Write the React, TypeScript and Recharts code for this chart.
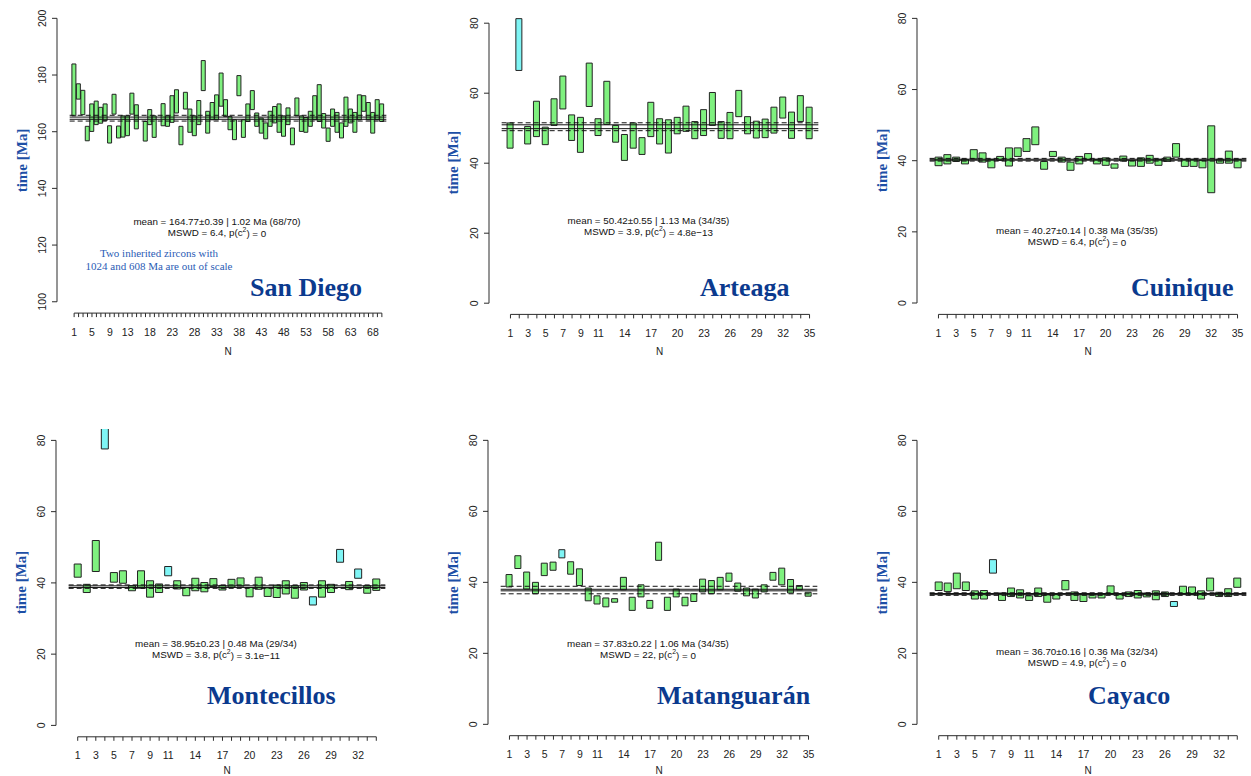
import { BarChart, Bar, XAxis, YAxis, Cell, ReferenceLine } from "recharts";

const GREEN = "#00e400";
const CYAN = "#00ecec";
const INK = "#2b2b2b";
const TITLE_BLUE = "#0b3a8e";
const LABEL_BLUE = "#1d4fa6";
const SANS = "'Liberation Sans', Arial, sans-serif";
const SERIF = "'Liberation Serif', 'Times New Roman', serif";
const PLOT_W = 342;

// x-axis label sets (R drops the overlapping ones)
const labels70 = [1, 5, 9, 13, 18, 23, 28, 33, 38, 43, 48, 53, 58, 63, 68];
const labels35 = [1, 3, 5, 7, 9, 11, 14, 17, 20, 23, 26, 29, 32, 35];
const labels34 = [1, 3, 5, 7, 9, 11, 14, 17, 20, 23, 26, 29, 32];
const ticks0to80 = [0, 20, 40, 60, 80];
const ticksSanDiego = [100, 120, 140, 160, 180, 200];

// San Diego, 70 grains; 16 and 20 are the inherited zircons (off scale)
const sanDiegoHi = [183.9, 176.9, 174.6, 161.9, 169.8, 170.8, 168.6, 169.8, 162.1, 173.2, 162.0, 165.6, 165.6, 173.6, 169.5, null, 163.6, 167.8, 165.6, null, 169.9, 165.6, 172.7, 174.8, 161.9, 173.9, 168.0, 165.6, 171.0, 185.1, 167.2, 170.3, 173.0, 180.7, 171.3, 165.4, 164.2, 179.8, 164.2, 169.8, 174.5, 166.6, 164.8, 163.1, 167.2, 168.9, 169.8, 165.6, 168.4, 161.3, 171.9, 165.6, 165.0, 167.2, 172.7, 176.6, 166.4, 161.3, 168.0, 166.8, 163.1, 172.2, 168.0, 166.8, 173.0, 172.7, 170.3, 166.8, 171.3, 169.8];
const sanDiegoLo = [165.6, 171.5, 166.0, 156.8, 160.1, 162.5, 163.0, 163.9, 156.0, 166.2, 157.8, 158.1, 158.6, 166.2, 161.0, null, 156.7, 162.5, 158.0, null, 162.1, 161.9, 163.3, 166.6, 155.4, 168.0, 159.8, 158.6, 162.5, 174.5, 159.5, 164.2, 164.2, 169.0, 165.4, 160.7, 157.2, 172.7, 158.0, 163.6, 167.8, 161.9, 159.5, 157.5, 161.9, 163.1, 159.8, 158.4, 162.5, 155.4, 165.6, 160.1, 159.8, 161.9, 164.2, 163.6, 161.3, 156.6, 161.9, 159.8, 157.8, 161.9, 163.1, 159.8, 164.2, 167.2, 164.2, 159.5, 164.2, 163.6];
const sanDiegoRejected = [16, 20];

const arteagaHi = [51.5, 81.3, 50.5, 57.7, 50.3, 58.4, 64.9, 53.8, 53.1, 68.6, 52.7, 63.4, 50.8, 48.2, 51.5, 47.3, 57.4, 52.7, 52.4, 53.1, 56.3, 51.9, 55.3, 60.2, 51.9, 54.5, 60.8, 53.3, 52.0, 52.6, 56.0, 58.9, 54.6, 59.3, 56.0];
const arteagaLo = [44.3, 66.5, 45.5, 47.6, 45.3, 50.8, 55.5, 46.5, 43.1, 56.2, 47.9, 51.1, 46.0, 40.8, 44.3, 42.5, 47.6, 45.5, 42.9, 48.4, 49.1, 47.0, 47.9, 50.8, 47.1, 47.0, 53.3, 48.4, 47.2, 47.3, 48.6, 52.9, 47.1, 51.9, 47.0];
const arteagaRejected = [2];

const cuiniqueHi = [41.0, 41.7, 41.0, 40.4, 43.1, 42.2, 40.4, 41.2, 43.6, 43.6, 46.2, 49.5, 39.8, 42.6, 41.0, 39.6, 41.2, 42.0, 40.4, 40.8, 39.1, 41.3, 40.1, 40.8, 41.5, 40.4, 41.0, 44.8, 40.4, 40.4, 40.1, 49.8, 40.4, 42.7, 40.4];
const cuiniqueLo = [38.6, 39.1, 39.8, 39.1, 40.5, 39.6, 38.0, 40.1, 38.5, 41.2, 42.6, 44.5, 37.6, 41.2, 39.6, 37.3, 39.1, 40.3, 39.1, 38.7, 37.9, 39.9, 38.5, 38.4, 39.3, 38.7, 39.8, 41.0, 38.4, 38.4, 38.0, 31.0, 39.3, 39.3, 38.0];
const cuiniqueRejected: number[] = [];

const montecillosHi = [45.3, 39.6, 51.9, 86.0, 42.9, 43.4, 39.2, 43.4, 40.6, 39.7, 44.6, 40.6, 38.7, 41.3, 40.1, 41.2, 39.3, 41.0, 41.4, 38.7, 41.6, 38.6, 39.4, 40.6, 39.2, 40.1, 36.1, 40.6, 39.6, 49.4, 40.4, 43.9, 39.2, 41.1];
const montecillosLo = [41.6, 37.3, 43.2, 77.6, 40.2, 39.9, 37.8, 38.5, 36.0, 37.3, 42.0, 38.3, 36.4, 37.8, 37.5, 39.0, 38.0, 38.8, 39.1, 36.1, 38.2, 36.2, 35.9, 36.9, 35.7, 38.0, 33.8, 36.0, 37.3, 45.8, 38.1, 41.3, 37.1, 37.9];
const montecillosRejected = [4, 11, 27, 30, 32];

const matanguaranHi = [42.2, 47.5, 42.9, 40.0, 45.4, 45.7, 49.2, 45.8, 43.8, 38.4, 36.2, 35.6, 35.4, 41.4, 35.8, 39.3, 34.9, 51.3, 35.8, 38.1, 35.8, 36.8, 40.9, 40.5, 41.4, 42.6, 39.8, 38.4, 38.1, 39.3, 42.8, 44.0, 40.8, 39.1, 37.2];
const matanguaranLo = [38.7, 43.9, 38.1, 36.8, 41.9, 43.4, 46.9, 42.3, 39.1, 34.8, 33.9, 33.1, 34.4, 37.9, 32.1, 35.9, 32.7, 46.2, 32.1, 35.9, 33.4, 34.6, 37.3, 36.8, 37.9, 40.3, 37.5, 36.2, 35.6, 37.3, 40.6, 39.3, 37.0, 37.9, 36.1];
const matanguaranRejected = [7];

const cayacoHi = [40.1, 39.8, 42.6, 40.1, 37.6, 37.7, 46.4, 37.0, 38.4, 37.9, 36.2, 38.4, 36.5, 36.7, 40.5, 37.3, 36.7, 36.7, 36.8, 39.0, 36.8, 37.3, 37.7, 37.0, 37.6, 37.3, 34.6, 38.9, 38.7, 37.6, 41.2, 37.2, 38.2, 41.2];
const cayacoLo = [37.7, 37.4, 38.2, 37.7, 35.3, 35.3, 42.6, 34.9, 36.0, 35.6, 34.9, 36.0, 34.4, 35.3, 37.9, 34.9, 34.6, 35.6, 35.6, 36.7, 35.3, 36.0, 35.6, 35.9, 35.1, 36.0, 33.2, 36.7, 36.5, 35.3, 37.6, 36.0, 36.0, 38.6];
const cayacoRejected = [7, 27];

type Panel = {
  name: string;
  hi: (number | null)[];
  lo: (number | null)[];
  rejected: number[];
  yTicks: number[];
  xLabels: number[];
  mean: number;
  err: number;
  disp: number;
  meanText: string;
  mswd: string;
  pval: string;
  axisX: number;
  plotTop: number;
  plotBottom: number;
  barSize: number;
  textY: number;
  titleX: number;
  titleY: number;
  nY: number;
};

const panels: Panel[] = [
  { name: "San Diego", hi: sanDiegoHi, lo: sanDiegoLo, rejected: sanDiegoRejected, yTicks: ticksSanDiego, xLabels: labels70, mean: 164.77, err: 0.39, disp: 1.02, meanText: "mean = 164.77±0.39 | 1.02 Ma (68/70)", mswd: "MSWD = 6.4, p(c", pval: ") = 0", axisX: 57, plotTop: 7.4, plotBottom: 313.5, barSize: 4, textY: 221, titleX: 250, titleY: 296, nY: 351 },
  { name: "Arteaga", hi: arteagaHi, lo: arteagaLo, rejected: arteagaRejected, yTicks: ticks0to80, xLabels: labels35, mean: 50.42, err: 0.55, disp: 1.13, meanText: "mean = 50.42±0.55 | 1.13 Ma (34/35)", mswd: "MSWD = 3.9, p(c", pval: ") = 4.8e\u221213", axisX: 488.5, plotTop: 11.5, plotBottom: 313.9, barSize: 6, textY: 220, titleX: 700, titleY: 296, nY: 351 },
  { name: "Cuinique", hi: cuiniqueHi, lo: cuiniqueLo, rejected: cuiniqueRejected, yTicks: ticks0to80, xLabels: labels35, mean: 40.27, err: 0.14, disp: 0.38, meanText: "mean = 40.27±0.14 | 0.38 Ma (35/35)", mswd: "MSWD = 6.4, p(c", pval: ") = 0", axisX: 917, plotTop: 6.6, plotBottom: 314, barSize: 7, textY: 230, titleX: 1131, titleY: 296, nY: 351 },
  { name: "Montecillos", hi: montecillosHi, lo: montecillosLo, rejected: montecillosRejected, yTicks: ticks0to80, xLabels: labels34, mean: 38.95, err: 0.23, disp: 0.48, meanText: "mean = 38.95±0.23 | 0.48 Ma (29/34)", mswd: "MSWD = 3.8, p(c", pval: ") = 3.1e\u221211", axisX: 56, plotTop: 428.6, plotBottom: 736.4, barSize: 7, textY: 643, titleX: 207, titleY: 704, nY: 770 },
  { name: "Matanguarán", hi: matanguaranHi, lo: matanguaranLo, rejected: matanguaranRejected, yTicks: ticks0to80, xLabels: labels35, mean: 37.83, err: 0.22, disp: 1.06, meanText: "mean = 37.83±0.22 | 1.06 Ma (34/35)", mswd: "MSWD = 22, p(c", pval: ") = 0", axisX: 488, plotTop: 429.4, plotBottom: 736.1, barSize: 6, textY: 643, titleX: 657, titleY: 704, nY: 770 },
  { name: "Cayaco", hi: cayacoHi, lo: cayacoLo, rejected: cayacoRejected, yTicks: ticks0to80, xLabels: labels34, mean: 36.7, err: 0.16, disp: 0.36, meanText: "mean = 36.70±0.16 | 0.36 Ma (32/34)", mswd: "MSWD = 4.9, p(c", pval: ") = 0", axisX: 917, plotTop: 429.3, plotBottom: 736, barSize: 7, textY: 651, titleX: 1088, titleY: 704, nY: 770 },
];

function PanelChart({ p }: { p: Panel }) {
  const n = p.hi.length;
  const xMin = -0.04 * (n + 1);
  const xMax = 1.04 * (n + 1);
  const first = p.yTicks[0];
  const last = p.yTicks[p.yTicks.length - 1];
  const pad = 0.04 * (last - first);
  const data = p.hi.map((hi, i) => ({
    n: i + 1,
    range: hi == null ? null : [p.lo[i], hi],
    out: p.rejected.includes(i + 1),
  }));
  const allN = data.map((d) => d.n);
  const h = p.plotBottom - p.plotTop + 40;

  return (
    <div style={{ position: "absolute", left: p.axisX - 60, top: p.plotTop }}>
      <BarChart width={60 + PLOT_W + 10} height={h} data={data} margin={{ top: 0, right: 10, bottom: 0, left: 0 }}>
        <XAxis
          type="number"
          dataKey="n"
          domain={[xMin, xMax]}
          ticks={allN}
          interval={0}
          allowDataOverflow
          axisLine={false}
          tickSize={4}
          height={40}
          stroke={INK}
          tick={(props: any) =>
            p.xLabels.includes(props.payload.value) ? (
              <text x={props.x} y={props.y + 16.5} textAnchor="middle" fontSize={10.5} fontFamily={SANS} fill="#222">
                {props.payload.value}
              </text>
            ) : (
              <g />
            )
          }
        />
        <YAxis
          type="number"
          domain={[first - pad, last + pad]}
          ticks={p.yTicks}
          interval={0}
          allowDataOverflow
          axisLine={false}
          tickSize={5}
          width={60}
          stroke={INK}
          tick={(props: any) => (
            <text
              x={props.x - 4}
              y={props.y}
              transform={`rotate(-90 ${props.x - 4} ${props.y})`}
              textAnchor="middle"
              fontSize={10.5}
              fontFamily={SANS}
              fill="#222"
            >
              {props.payload.value}
            </text>
          )}
        />
        {/* R-style axis lines that only run between the outer ticks */}
        <ReferenceLine segment={[{ x: xMin, y: first }, { x: xMin, y: last }]} stroke={INK} ifOverflow="visible" />
        <ReferenceLine segment={[{ x: 1, y: first - pad }, { x: n, y: first - pad }]} stroke={INK} ifOverflow="visible" />
        <ReferenceLine segment={[{ x: 0, y: p.mean + p.disp }, { x: n + 1, y: p.mean + p.disp }]} stroke="#111" strokeDasharray="5 3" ifOverflow="visible" />
        <ReferenceLine segment={[{ x: 0, y: p.mean - p.disp }, { x: n + 1, y: p.mean - p.disp }]} stroke="#111" strokeDasharray="5 3" ifOverflow="visible" />
        <ReferenceLine segment={[{ x: 0, y: p.mean + p.err }, { x: n + 1, y: p.mean + p.err }]} stroke="#111" ifOverflow="visible" />
        <ReferenceLine segment={[{ x: 0, y: p.mean - p.err }, { x: n + 1, y: p.mean - p.err }]} stroke="#111" ifOverflow="visible" />
        <Bar dataKey="range" barSize={p.barSize} isAnimationActive={false} stroke="#222" strokeWidth={1}>
          {data.map((d) => (
            <Cell key={d.n} fill={d.out ? CYAN : GREEN} fillOpacity={0.5} />
          ))}
        </Bar>
      </BarChart>
    </div>
  );
}

function Annotations() {
  return (
    <svg width={1251} height={776} style={{ position: "absolute", left: 0, top: 0, pointerEvents: "none" }}>
      {panels.map((p) => {
        const cx = p.axisX + 160;
        const midY = (p.plotTop + p.plotBottom) / 2;
        return (
          <g key={p.name}>
            <text
              x={p.axisX - 35}
              y={midY}
              transform={`rotate(-90 ${p.axisX - 35} ${midY})`}
              textAnchor="middle"
              dominantBaseline="central"
              fontFamily={SERIF}
              fontWeight="bold"
              fontSize={15}
              fill={LABEL_BLUE}
            >
              time [Ma]
            </text>
            <text x={cx} y={p.textY} textAnchor="middle" dominantBaseline="central" fontFamily={SANS} fontSize={9.8} fill="#111">
              {p.meanText}
            </text>
            <text x={cx} y={p.textY + 11.5} textAnchor="middle" dominantBaseline="central" fontFamily={SANS} fontSize={9.8} fill="#111">
              {p.mswd}
              <tspan dy={-3.5} fontSize={6.8}>2</tspan>
              <tspan dy={3.5}>{p.pval}</tspan>
            </text>
            <text x={p.titleX} y={p.titleY} fontFamily={SERIF} fontWeight="bold" fontSize={26} fill={TITLE_BLUE}>
              {p.name}
            </text>
            <text x={p.axisX + 171} y={p.nY} textAnchor="middle" dominantBaseline="central" fontFamily={SANS} fontSize={10} fill="#222">
              N
            </text>
          </g>
        );
      })}
      <text x={159} y={253} textAnchor="middle" dominantBaseline="central" fontFamily={SERIF} fontSize={11} fill="#2b5cb5">
        Two inherited zircons with
      </text>
      <text x={159} y={266} textAnchor="middle" dominantBaseline="central" fontFamily={SERIF} fontSize={11} fill="#2b5cb5">
        1024 and 608 Ma are out of scale
      </text>
    </svg>
  );
}

export default function App() {
  return (
    <div style={{ position: "absolute", left: 0, top: 0, width: 1251, height: 776, background: "#fff" }}>
      {panels.map((p) => (
        <PanelChart key={p.name} p={p} />
      ))}
      <Annotations />
    </div>
  );
}
